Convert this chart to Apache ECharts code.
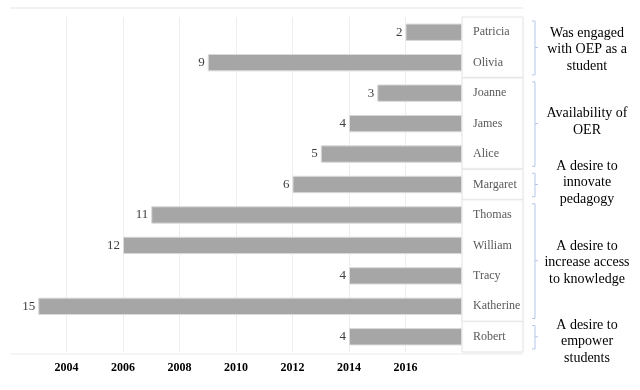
<!DOCTYPE html>
<html><head><meta charset="utf-8">
<script src="https://cdn.jsdelivr.net/npm/echarts@6/dist/echarts.min.js"></script>
<style>html,body{margin:0;padding:0;background:#fff}#c{width:640px;height:390px}</style>
</head><body><div id="c"></div>
<script>
const names = ['Patricia','Olivia','Joanne','James','Alice','Margaret','Thomas','William','Tracy','Katherine','Robert'];
const years = [2,9,3,4,5,6,11,12,4,15,4];
const endYear = 2018;
const groupLabels = ['Was engaged\nwith OEP as a\nstudent','Availability of\nOER','A desire to\ninnovate\npedagogy','A desire to\nincrease access\nto knowledge','A desire to\nempower\nstudents'];
const groupSizes = [2,3,1,4,1];
const tickLabels = [2004,2006,2008,2010,2012,2014,2016];

const F = '"Liberation Serif","Times New Roman",serif';
const chart = echarts.init(document.getElementById('c'));
chart.setOption({
  animation:false,
  grid:{left:10,right:178,top:17,bottom:38,containLabel:false},
  xAxis:{type:'value',min:2002,max:2018,interval:2,
    axisLine:{show:false},axisTick:{show:false},
    axisLabel:{margin:10,color:'#000',fontFamily:F,fontSize:12,fontWeight:'bold',
      formatter:v=>tickLabels.indexOf(v)>=0?String(v):''},
    splitLine:{show:true,showMinLine:false,showMaxLine:false,lineStyle:{color:'#eeeeee',width:1}}},
  yAxis:{type:'category',data:names,inverse:true,position:'right',
    axisLine:{show:false},axisTick:{show:false},
    axisLabel:{show:false}},
  series:[
    {type:'bar',stack:'s',data:years.map(d=>endYear-d),itemStyle:{color:'transparent'},barWidth:'57%',silent:true},
    {type:'bar',stack:'s',data:years,barWidth:'57%',
      itemStyle:{color:'#a6a6a6',borderColor:'#dadada',borderWidth:1},
      label:{show:true,position:'left',distance:3,color:'#404040',fontFamily:F,fontSize:13}}
  ]
});

function build(){
  const g=[];
  const y0=chart.convertToPixel({yAxisIndex:0},names[0]);
  const y1=chart.convertToPixel({yAxisIndex:0},names[1]);
  const band=y1-y0;
  const xl=10, xe=chart.convertToPixel({xAxisIndex:0},endYear), xr=523;
  const top=y0-band/2, bot=chart.convertToPixel({yAxisIndex:0},names[names.length-1])+band/2;
  g.push({type:'line',shape:{x1:xl,y1:top-9,x2:xr,y2:top-9},style:{stroke:'#f2f2f2',lineWidth:2},z:1});
  g.push({type:'line',shape:{x1:xl,y1:bot+2,x2:xr,y2:bot+2},style:{stroke:'#f2f2f2',lineWidth:1.5},z:1});
  let idx=0;
  groupSizes.forEach((n,gi)=>{
    const a=chart.convertToPixel({yAxisIndex:0},names[idx])-band/2;
    const b=chart.convertToPixel({yAxisIndex:0},names[idx+n-1])+band/2;
    g.push({type:'rect',shape:{x:xe,y:a,width:xr-xe,height:b-a},style:{fill:'#fff',stroke:'#e8e8e8',lineWidth:1,shadowColor:'rgba(0,0,0,0.06)',shadowBlur:2},z:10});
    for(let k=idx;k<idx+n;k++){
      const yc=chart.convertToPixel({yAxisIndex:0},names[k]);
      g.push({type:'text',x:473,y:yc,style:{text:names[k],fill:'#595959',font:'12px '+F,textAlign:'left',textVerticalAlign:'middle'},z:11});
    }
    const bt=a+4,bb=b-3,mid=(a+b)/2;
    g.push({type:'polyline',shape:{points:[[532,bt],[535,bt],[535,bb],[532,bb]]},style:{stroke:'#b4c7e7',lineWidth:1,fill:null},z:11});
    g.push({type:'line',shape:{x1:535,y1:mid,x2:538,y2:mid},style:{stroke:'#b4c7e7',lineWidth:1},z:11});
    g.push({type:'text',x:587,y:mid+(gi===1?-2:(gi===4?5:(gi===2?-2:2))),style:{text:groupLabels[gi],fill:'#000',font:'14px '+F,textAlign:'center',textVerticalAlign:'middle',lineHeight:16.5},z:11});
    idx+=n;
  });
  chart.setOption({graphic:g});
}
build();
</script></body></html>
